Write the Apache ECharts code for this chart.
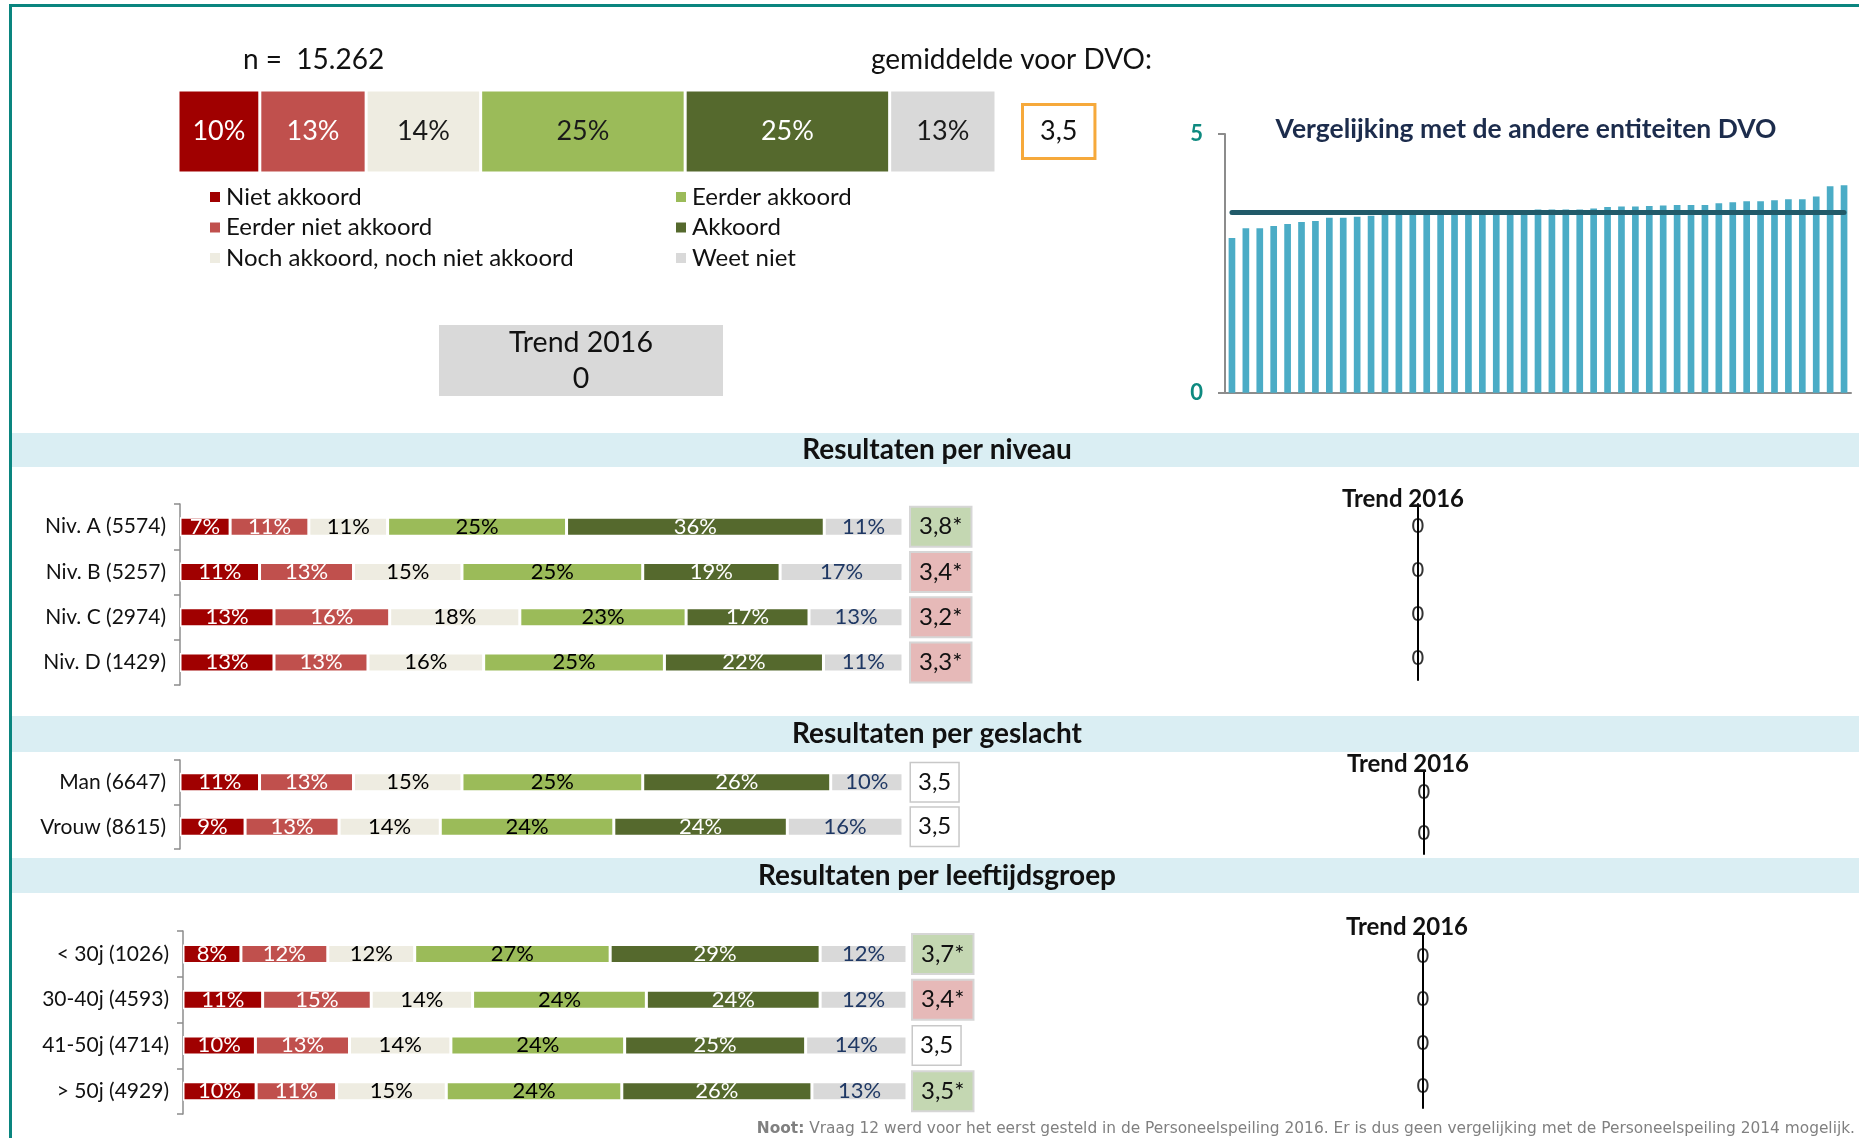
<!DOCTYPE html>
<html><head><meta charset="utf-8">
<script src="https://cdn.jsdelivr.net/npm/echarts@6/dist/echarts.min.js"></script>
<style>html,body{margin:0;padding:0;background:#fff}#c{width:1859px;height:1138px}</style>
</head><body><div id="c"></div>
<script>
// ---------- DATA ----------
const answerNames = ['Niet akkoord', 'Eerder niet akkoord', 'Noch akkoord, noch niet akkoord', 'Eerder akkoord', 'Akkoord', 'Weet niet'];
const nTotal = '15.262';
const totalPct = [10, 13, 14, 25, 25, 13];
const totalScore = '3,5';
const totalTrend = 0;

const levelCats = ['Niv. A (5574)', 'Niv. B (5257)', 'Niv. C (2974)', 'Niv. D (1429)'];
const levelPct = [[7, 11, 11, 25, 36, 11], [11, 13, 15, 25, 19, 17], [13, 16, 18, 23, 17, 13], [13, 13, 16, 25, 22, 11]];
const levelScores = ['3,8*', '3,4*', '3,2*', '3,3*'];
const levelSig = ['up', 'down', 'down', 'down'];
const levelTrend = [0, 0, 0, 0];

const genderCats = ['Man (6647)', 'Vrouw (8615)'];
const genderPct = [[11, 13, 15, 25, 26, 10], [9, 13, 14, 24, 24, 16]];
const genderScores = ['3,5', '3,5'];
const genderSig = ['none', 'none'];
const genderTrend = [0, 0];

const ageCats = ['< 30j (1026)', '30-40j (4593)', '41-50j (4714)', '> 50j (4929)'];
const agePct = [[8, 12, 12, 27, 29, 12], [11, 15, 14, 24, 24, 12], [10, 13, 14, 24, 25, 14], [10, 11, 15, 24, 26, 13]];
const ageScores = ['3,7*', '3,4*', '3,5', '3,5*'];
const ageSig = ['up', 'down', 'none', 'up'];
const ageTrend = [0, 0, 0, 0];

const entityScores = [2.99, 3.18, 3.18, 3.22, 3.26, 3.30, 3.32, 3.38, 3.38, 3.40, 3.42, 3.45, 3.46, 3.47, 3.47,
  3.48, 3.48, 3.49, 3.49, 3.50, 3.51, 3.53, 3.54, 3.54, 3.54, 3.54, 3.56, 3.59, 3.60, 3.60,
  3.61, 3.62, 3.63, 3.63, 3.63, 3.66, 3.68, 3.70, 3.70, 3.72, 3.74, 3.74, 3.79, 3.99, 4.01];
const entityNames = entityScores.map((_, i) => 'Entiteit ' + (i + 1));
const dvoMean = 3.48;
const miniTicks = [0, 5];

// ---------- STYLE ----------
const FF = 'Lato, "Liberation Sans", sans-serif';
const segColors = ['#A00000', '#C0504D', '#EEECE1', '#9BBB59', '#55692D', '#D9D9D9'];
const segText = ['#ffffff', '#ffffff', '#000000', '#000000', '#ffffff', '#1F3864'];
const axisGray = '#8C8C8C';

const chart = echarts.init(document.getElementById('c'), null, {renderer: 'canvas'});

function stackSeries(stackId, rows, axIdx, ayIdx, barWidth, fontSize, textColors) {
  return answerNames.map((name, k) => ({
    type: 'bar', name, stack: stackId, xAxisIndex: axIdx, yAxisIndex: ayIdx, barWidth,
    data: rows.map(r => { const tot = r.reduce((a, b) => a + b, 0); return {value: r[k] / tot * 100, raw: r[k]}; }),
    itemStyle: {color: segColors[k], borderColor: '#ffffff', borderWidth: 1.5},
    label: {show: true, position: 'inside', formatter: p => p.data.raw + '%', color: textColors[k], fontSize, fontFamily: FF},
    emphasis: {disabled: true}, silent: true
  }));
}

const boxRich = {
  up: {backgroundColor: '#C4D7B2', borderColor: '#D6D6D6', borderWidth: 2, padding: [7, 8, 7, 8], fontSize: 24, lineHeight: 24, color: '#111', fontFamily: FF},
  down: {backgroundColor: '#E6B9B8', borderColor: '#D6D6D6', borderWidth: 2, padding: [7, 8, 7, 8], fontSize: 24, lineHeight: 24, color: '#111', fontFamily: FF},
  none: {backgroundColor: '#ffffff', borderColor: '#C8C8C8', borderWidth: 1.5, padding: [7, 7, 7, 7], fontSize: 24, lineHeight: 24, color: '#111', fontFamily: FF},
  top: {backgroundColor: '#ffffff', borderColor: '#F6A93B', borderWidth: 3, padding: [12, 16, 12, 16], fontSize: 27, lineHeight: 27, color: '#111', fontFamily: FF}
};

function catAxis(gridIndex, data, show) {
  return {
    type: 'category', gridIndex, data, inverse: true,
    axisLine: {show, lineStyle: {color: axisGray, width: 1.5}},
    axisTick: {show, length: 6, lineStyle: {color: axisGray, width: 1.5}},
    axisLabel: {show, margin: 14, fontSize: 21, color: '#111', fontFamily: FF}
  };
}
function scoreAxis(gridIndex, data, sig, margin) {
  return {
    type: 'category', gridIndex, data, inverse: true, position: 'right',
    axisLine: {show: false}, axisTick: {show: false},
    axisLabel: {margin, formatter: (v, i) => '{' + sig[i] + '|' + v + '}', rich: boxRich}
  };
}
function trendCatAxis(gridIndex, data) {
  return {
    type: 'category', gridIndex, data, inverse: true,
    axisLine: {show: true, onZero: true, lineStyle: {color: '#000', width: 2}},
    axisTick: {show: false}, axisLabel: {show: false}
  };
}
function trendSeries(vals, axIdx, ayIdx) {
  return {
    type: 'scatter', xAxisIndex: axIdx, yAxisIndex: ayIdx, symbolSize: 1,
    itemStyle: {color: 'rgba(0,0,0,0)'},
    data: vals.map((v, i) => [v, i]),
    label: {show: true, position: 'inside', formatter: p => String(p.value[0]), color: '#000', fontSize: 22, fontFamily: FF},
    silent: true
  };
}
const hiddenVal = (gridIndex, min, max) => ({type: 'value', gridIndex, min, max, show: false, splitLine: {show: false}});

const grids = [
  {left: 178, top: 90, width: 818, height: 83},              // 0 top bar
  {left: 1225, top: 134, width: 626, height: 258.7},         // 1 mini comparison
  {left: 180, top: 504, width: 723, height: 181},            // 2 niveau
  {left: 1368, top: 504, width: 100, height: 176},           // 3 niveau trend
  {left: 180, top: 760, width: 723, height: 89},             // 4 geslacht
  {left: 1374, top: 771, width: 100, height: 83},            // 5 geslacht trend
  {left: 183, top: 931, width: 724, height: 183},            // 6 leeftijd
  {left: 1373, top: 934, width: 100, height: 174}            // 7 leeftijd trend
];

const xAxes = [
  hiddenVal(0, 0, 100),
  {type: 'category', gridIndex: 1, data: entityNames, axisLine: {lineStyle: {color: axisGray, width: 2}}, axisTick: {show: false}, axisLabel: {show: false}},
  hiddenVal(2, 0, 100), hiddenVal(3, -1, 1),
  hiddenVal(4, 0, 100), hiddenVal(5, -1, 1),
  hiddenVal(6, 0, 100), hiddenVal(7, -1, 1)
];

const yAxes = [
  catAxis(0, ['Totaal'], false),                                   // 0
  scoreAxis(0, [totalScore], ['top'], 28),                         // 1
  {type: 'value', gridIndex: 1, min: miniTicks[0], max: miniTicks[1], interval: miniTicks[1] - miniTicks[0],
    axisLine: {show: true, lineStyle: {color: axisGray, width: 2}},
    axisTick: {show: true, length: 7, lineStyle: {color: axisGray, width: 2}},
    splitLine: {show: false},
    axisLabel: {color: '#0E8A80', fontWeight: 'bold', fontSize: 22, margin: 22, fontFamily: FF}},   // 2
  catAxis(2, levelCats, true),                                     // 3
  scoreAxis(2, levelScores, levelSig, 8),                          // 4
  trendCatAxis(3, levelCats),                                      // 5
  catAxis(4, genderCats, true),                                    // 6
  scoreAxis(4, genderScores, genderSig, 8),                        // 7
  trendCatAxis(5, genderCats),                                     // 8
  catAxis(6, ageCats, true),                                       // 9
  scoreAxis(6, ageScores, ageSig, 6),                              // 10
  trendCatAxis(7, ageCats)                                         // 11
];

const series = [
  ...stackSeries('total', [totalPct], 0, 0, 83, 27, ['#fff', '#fff', '#1a1a1a', '#1a1a1a', '#fff', '#1a1a1a']),
  {type: 'bar', name: 'Entiteiten', xAxisIndex: 1, yAxisIndex: 2, data: entityScores, barWidth: '48%',
    itemStyle: {color: '#4BACC6'}, silent: true,
    markLine: {silent: true, symbol: ['none', 'none'], label: {show: false},
      lineStyle: {color: '#215A69', width: 5, type: 'solid', cap: 'round'},
      data: [[{coord: [entityNames[0], dvoMean]}, {coord: [entityNames[entityNames.length - 1], dvoMean]}]]}},
  ...stackSeries('level', levelPct, 2, 3, 19, 22, segText),
  trendSeries(levelTrend, 3, 5),
  ...stackSeries('gender', genderPct, 4, 6, 19, 22, segText),
  trendSeries(genderTrend, 5, 8),
  ...stackSeries('age', agePct, 6, 9, 19, 22, segText),
  trendSeries(ageTrend, 7, 11)
];

const legendBase = {orient: 'vertical', icon: 'rect', itemWidth: 12, itemHeight: 12, itemGap: 6.5, selectedMode: false,
  textStyle: {fontSize: 24, lineHeight: 24, color: '#111', fontFamily: FF}};

const txt = (text, x, y, size, opts = {}) => ({type: 'text', silent: true, z: 10,
  style: Object.assign({text, x, y, fontSize: size, fontFamily: FF, fill: '#111', align: 'left', verticalAlign: 'middle'}, opts)});
const band = (y, h) => ({type: 'rect', silent: true, z: 0, shape: {x: 12, y, width: 1847, height: h}, style: {fill: '#DAEEF3'}});

const graphic = [
  {type: 'line', silent: true, z: 20, shape: {x1: 10, y1: 5.5, x2: 1859, y2: 5.5}, style: {stroke: '#0A857F', lineWidth: 3}},
  {type: 'line', silent: true, z: 20, shape: {x1: 10.5, y1: 4, x2: 10.5, y2: 1138}, style: {stroke: '#0A857F', lineWidth: 3}},
  txt('n =  ' + nTotal, 243, 60, 28),
  txt('gemiddelde voor DVO:', 871, 60, 28),
  txt('Vergelijking met de andere entiteiten DVO', 1526, 129, 26.5, {align: 'center', fontWeight: 'bold', fill: '#1C2C4C'}),
  {type: 'rect', silent: true, shape: {x: 439, y: 325, width: 284, height: 71}, style: {fill: '#D9D9D9'}},
  txt('Trend 2016\n' + totalTrend, 581, 361, 28.5, {align: 'center', lineHeight: 36}),
  band(433, 34), band(716, 36), band(858, 35),
  txt('Resultaten per niveau', 937, 450, 28, {align: 'center', fontWeight: 'bold'}),
  txt('Resultaten per geslacht', 937, 734, 28, {align: 'center', fontWeight: 'bold'}),
  txt('Resultaten per leeftijdsgroep', 937, 876, 28, {align: 'center', fontWeight: 'bold'}),
  txt('Trend 2016', 1403, 499, 24, {align: 'center', fontWeight: 'bold'}),
  txt('Trend 2016', 1408, 764, 24, {align: 'center', fontWeight: 'bold'}),
  txt('Trend 2016', 1407, 927, 24, {align: 'center', fontWeight: 'bold'}),
  {type: 'text', silent: true, z: 10, style: {
    text: '{b|Noot:} Vraag 12 werd voor het eerst gesteld in de Personeelspeiling 2016. Er is dus geen vergelijking met de Personeelspeiling 2014 mogelijk.',
    x: 1855, y: 1128.5, align: 'right', verticalAlign: 'middle', fill: '#808080', fontSize: 15.4, fontFamily: '"DejaVu Sans", Verdana, sans-serif',
    rich: {b: {fontWeight: 'bold', fill: '#808080', fontSize: 15.4, fontFamily: '"DejaVu Sans", Verdana, sans-serif'}}}}
];

chart.setOption({
  animation: false,
  backgroundColor: '#ffffff',
  grid: grids,
  xAxis: xAxes,
  yAxis: yAxes,
  legend: [
    Object.assign({}, legendBase, {data: answerNames.slice(0, 3), left: 203, top: 180}),
    Object.assign({}, legendBase, {data: answerNames.slice(3), left: 669, top: 180})
  ],
  series,
  graphic
});
</script>
</body></html>
